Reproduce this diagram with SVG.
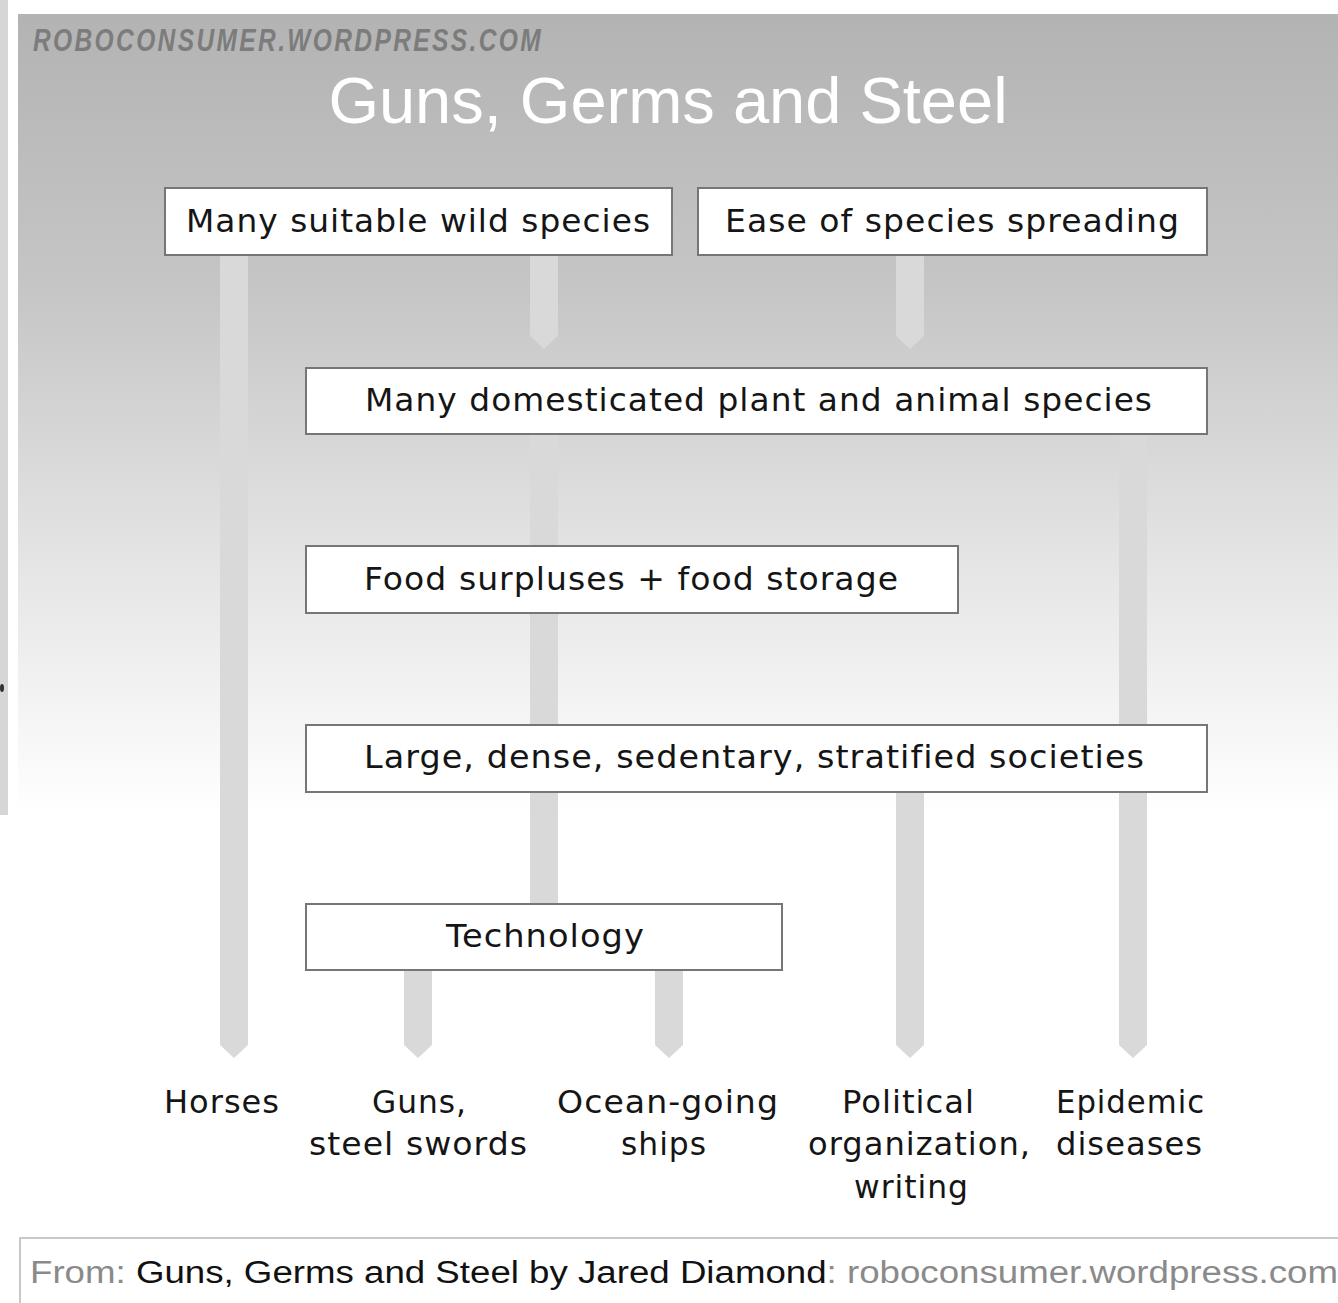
<svg xmlns="http://www.w3.org/2000/svg" width="1338" height="1303" viewBox="0 0 1338 1303">
<defs>
<linearGradient id="bg" x1="0" y1="0" x2="0" y2="1">
<stop offset="0" stop-color="#b3b3b3"/>
<stop offset="0.35" stop-color="#c6c6c6"/>
<stop offset="0.7" stop-color="#e6e6e6"/>
<stop offset="1" stop-color="#ffffff"/>
</linearGradient>
</defs>
<style>
.box{fill:#ffffff;stroke:#767676;stroke-width:2}
.bar{fill:#d9d9d9}
.t{font-family:"DejaVu Sans",sans-serif;font-size:32px;letter-spacing:1px;fill:#151515}
.lab{font-family:"DejaVu Sans",sans-serif;font-size:32px;letter-spacing:1px;fill:#151515}
</style>
<rect x="0" y="0" width="1338" height="1303" fill="#ffffff"/>
<rect x="0" y="0" width="8" height="815" fill="#d6d6d6"/>
<ellipse cx="2" cy="688" rx="2" ry="4" fill="#333"/>
<rect x="18" y="14" width="1320" height="800" fill="url(#bg)"/>
<text x="33" y="51" font-family="'Liberation Sans',sans-serif" font-size="31" font-weight="bold" font-style="italic" letter-spacing="3" fill="#7c7c7c" textLength="510" lengthAdjust="spacingAndGlyphs">ROBOCONSUMER.WORDPRESS.COM</text>
<text x="668" y="123" font-family="'Liberation Sans',sans-serif" font-size="65" fill="#ffffff" text-anchor="middle">Guns, Germs and Steel</text>
<g id="connectors">
<path class="bar" d="M220 255 H248 V1045 L234 1058 L220 1045 Z"/>
<path class="bar" d="M530 255 H558 V336 L544 349 L530 336 Z"/>
<path class="bar" d="M896 255 H924 V336 L910 349 L896 336 Z"/>
<path class="bar" d="M530 434 H558 V904 H530 Z"/>
<path class="bar" d="M1119 434 H1147 V1045 L1133 1058 L1119 1045 Z"/>
<path class="bar" d="M896 792 H924 V1045 L910 1058 L896 1045 Z"/>
<path class="bar" d="M404 970 H432 V1045 L418 1058 L404 1045 Z"/>
<path class="bar" d="M655 970 H683 V1045 L669 1058 L655 1045 Z"/>
</g>
<g id="n-wild"><rect class="box" x="165" y="188" width="507" height="67"/><text class="t" x="186" y="232" textLength="465" lengthAdjust="spacingAndGlyphs">Many suitable wild species</text></g>
<g id="n-ease"><rect class="box" x="698" y="188" width="509" height="67"/><text class="t" x="725" y="232" textLength="455" lengthAdjust="spacingAndGlyphs">Ease of species spreading</text></g>
<g id="n-dom"><rect class="box" x="306" y="368" width="901" height="66"/><text class="t" x="365" y="411" textLength="788" lengthAdjust="spacingAndGlyphs">Many domesticated plant and animal species</text></g>
<g id="n-food"><rect class="box" x="306" y="546" width="652" height="67"/><text class="t" x="364" y="590" textLength="535" lengthAdjust="spacingAndGlyphs">Food surpluses + food storage</text></g>
<g id="n-soc"><rect class="box" x="306" y="725" width="901" height="67"/><text class="t" x="364" y="768" textLength="781" lengthAdjust="spacingAndGlyphs">Large, dense, sedentary, stratified societies</text></g>
<g id="n-tech"><rect class="box" x="306" y="904" width="476" height="66"/><text class="t" x="446" y="947" textLength="199" lengthAdjust="spacingAndGlyphs">Technology</text></g>
<g id="n-horses"><text class="lab" x="164" y="1113" textLength="116" lengthAdjust="spacingAndGlyphs">Horses</text></g>
<g id="n-guns"><text class="lab" x="372" y="1113" textLength="95" lengthAdjust="spacingAndGlyphs">Guns,</text><text class="lab" x="309" y="1155" textLength="219" lengthAdjust="spacingAndGlyphs">steel swords</text></g>
<g id="n-ships"><text class="lab" x="557" y="1113" textLength="222" lengthAdjust="spacingAndGlyphs">Ocean-going</text><text class="lab" x="621" y="1155" textLength="86" lengthAdjust="spacingAndGlyphs">ships</text></g>
<g id="n-pol"><text class="lab" x="842" y="1113" textLength="133" lengthAdjust="spacingAndGlyphs">Political</text><text class="lab" x="808" y="1155" textLength="223" lengthAdjust="spacingAndGlyphs">organization,</text><text class="lab" x="854" y="1198" textLength="115" lengthAdjust="spacingAndGlyphs">writing</text></g>
<g id="n-epi"><text class="lab" x="1056" y="1113" textLength="149" lengthAdjust="spacingAndGlyphs">Epidemic</text><text class="lab" x="1056" y="1155" textLength="147" lengthAdjust="spacingAndGlyphs">diseases</text></g>
<rect x="20" y="1238" width="1330" height="80" fill="#ffffff" stroke="#c8c8c8" stroke-width="2"/>
<text x="30" y="1283" font-family="'Liberation Sans',sans-serif" font-size="31" textLength="1308" lengthAdjust="spacingAndGlyphs"><tspan fill="#8a8a8a">From: </tspan><tspan fill="#111111">Guns, Germs and Steel by Jared Diamond</tspan><tspan fill="#8a8a8a">: roboconsumer.wordpress.com</tspan></text>
</svg>
